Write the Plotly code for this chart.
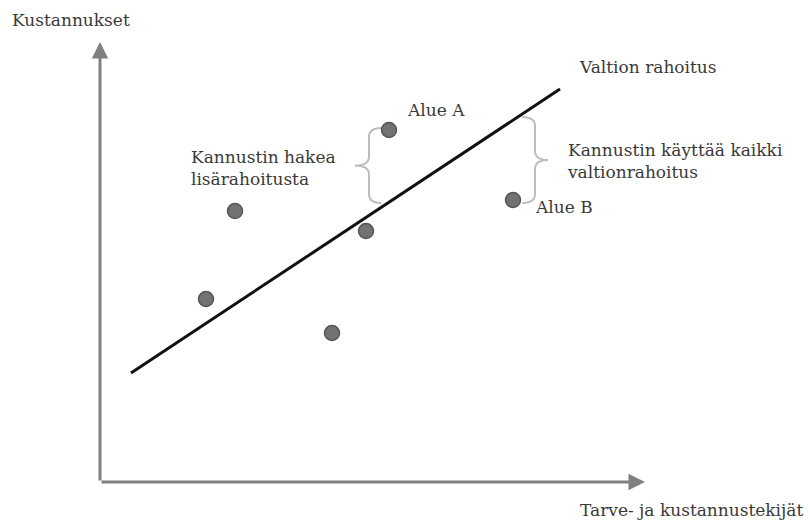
import plotly.graph_objects as go

# Data (conceptual units; origin at axis corner)
point_x = [13.5, 10.6, 23.2, 26.6, 28.9, 41.3]
point_y = [27.1, 18.3, 14.9, 25.1, 35.2, 28.2]
line_x = [3.1, 46.0]
line_y = [10.9, 39.3]

x_axis_end = 54.5
y_axis_end = 44.0

FONT = "DejaVu Serif"
TXT = "#3a3a3a"
GRAY_AX = "#808080"
BRACE = "#bdbdbd"

fig = go.Figure()

fig.add_trace(go.Scatter(x=line_x, y=line_y, mode="lines",
                         line=dict(color="#111111", width=3), hoverinfo="skip"))
fig.add_trace(go.Scatter(x=point_x, y=point_y, mode="markers",
                         marker=dict(size=15, color="#727272",
                                     line=dict(color="#555555", width=1.5)),
                         hoverinfo="skip"))

# axes with arrowheads
for (x0, y0, x1, y1) in [(0, 0, x_axis_end, 0), (0, 0, 0, y_axis_end)]:
    fig.add_annotation(x=x1, y=y1, ax=x0, ay=y0, xref="x", yref="y",
                       axref="x", ayref="y", text="", showarrow=True,
                       arrowhead=2, arrowsize=1.1, arrowwidth=3,
                       arrowcolor=GRAY_AX)


def brace(xv, xh, xt, ytop, ybot):
    ym = (ytop + ybot) / 2
    r = 0.9
    d = (f"M {xh},{ytop} Q {xv},{ytop} {xv},{ytop - r} "
         f"L {xv},{ym + r} Q {xv},{ym} {xt},{ym} "
         f"Q {xv},{ym} {xv},{ym - r} "
         f"L {xv},{ybot + r} Q {xv},{ybot} {xh},{ybot}")
    return d


fig.add_shape(type="path", path=brace(26.9, 28.1, 25.5, 35.4, 27.9),
              xref="x", yref="y", line=dict(color=BRACE, width=2))
fig.add_shape(type="path", path=brace(43.5, 42.2, 44.8, 36.5, 27.9),
              xref="x", yref="y", line=dict(color=BRACE, width=2))

labels = [
    ("Kustannukset", -9.0, 46.2),
    ("Tarve- ja kustannustekijät", 47.8, -2.8),
    ("Valtion rahoitus", 47.7, 41.5),
    ("Alue A", 30.5, 37.2),
    ("Alue B", 43.3, 27.5),
    ("Kannustin hakea<br>lisärahoitusta", 8.9, 31.4),
    ("Kannustin käyttää kaikki<br>valtionrahoitus", 46.5, 32.1),
]
for t, x, y in labels:
    fig.add_annotation(x=x, y=y, text=t, showarrow=False, xanchor="left",
                       yanchor="middle", align="left",
                       font=dict(family=FONT, size=17, color=TXT))

fig.update_layout(
    width=810, height=525, margin=dict(l=0, r=0, t=0, b=0),
    paper_bgcolor="white", plot_bgcolor="white", showlegend=False,
    xaxis=dict(range=[-10, 71], visible=False, fixedrange=True),
    yaxis=dict(range=[-4.3, 48.2], visible=False, fixedrange=True),
)

fig.write_html("out.html", config={"displayModeBar": False},
               post_script="document.body.style.margin='0';")
